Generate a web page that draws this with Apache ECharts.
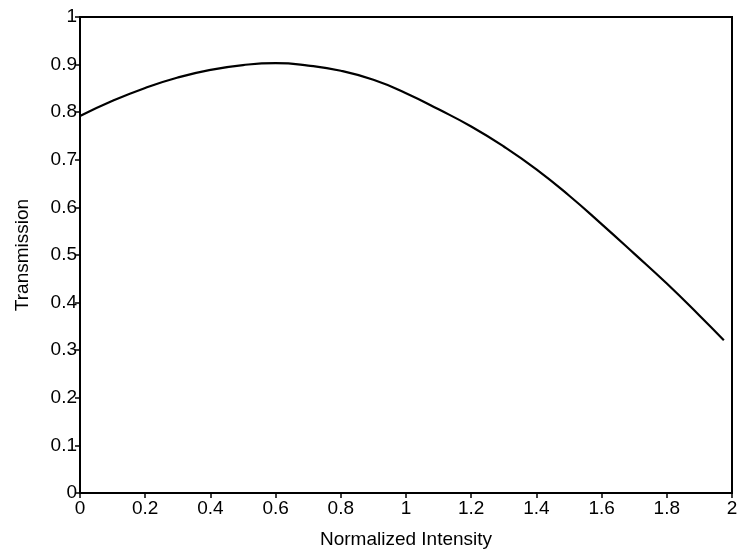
<!DOCTYPE html>
<html>
<head>
<meta charset="utf-8">
<script src="https://cdn.jsdelivr.net/npm/echarts@6/dist/echarts.min.js"></script>
<style>
  html, body { margin: 0; padding: 0; background: #fff; }
  #chart { width: 741px; height: 554px; }
</style>
</head>
<body>
<div id="chart"></div>
<script>
// Transmission versus normalized intensity
const intensity = [0, 0.1, 0.2, 0.3, 0.4, 0.5, 0.6, 0.7, 0.8, 0.9, 1.0,
                   1.1, 1.2, 1.3, 1.4, 1.5, 1.6, 1.7, 1.8, 1.9, 1.975];
const transmission = [0.792, 0.824, 0.851, 0.873, 0.889, 0.899, 0.903, 0.898, 0.887, 0.868, 0.840,
                      0.806, 0.770, 0.728, 0.680, 0.625, 0.565, 0.503, 0.440, 0.373, 0.321];

const xTicks = [0, 0.2, 0.4, 0.6, 0.8, 1, 1.2, 1.4, 1.6, 1.8, 2];
const yTicks = [0, 0.1, 0.2, 0.3, 0.4, 0.5, 0.6, 0.7, 0.8, 0.9, 1];

const FONT = '"Liberation Sans", Arial, Helvetica, sans-serif';
const points = intensity.map((x, i) => [x, transmission[i]]);
const fmt = v => String(parseFloat(v.toFixed(1)));

const chart = echarts.init(document.getElementById('chart'), null, { renderer: 'canvas' });
chart.setOption({
  animation: false,
  backgroundColor: '#ffffff',
  grid: {
    left: 80, right: 9, top: 17, bottom: 60,
    show: true, borderColor: '#000', borderWidth: 2, backgroundColor: 'transparent'
  },
  xAxis: {
    type: 'value',
    min: xTicks[0], max: xTicks[xTicks.length - 1], interval: 0.2,
    name: 'Normalized Intensity',
    nameLocation: 'middle', nameGap: 37,
    nameTextStyle: { fontFamily: FONT, fontSize: 19, color: '#000' },
    axisLine: { show: true, onZero: false, lineStyle: { color: '#000', width: 2 } },
    axisTick: { show: true, length: 5, lineStyle: { color: '#000', width: 1.5 } },
    axisLabel: { fontFamily: FONT, fontSize: 19, color: '#000', margin: 6, formatter: fmt },
    splitLine: { show: false }
  },
  yAxis: {
    type: 'value',
    min: yTicks[0], max: yTicks[yTicks.length - 1], interval: 0.1,
    name: 'Transmission',
    nameLocation: 'middle', nameGap: 48,
    nameTextStyle: { fontFamily: FONT, fontSize: 19, color: '#000' },
    axisLine: { show: true, lineStyle: { color: '#000', width: 2 } },
    axisTick: { show: true, length: 5, lineStyle: { color: '#000', width: 1.5 } },
    axisLabel: { fontFamily: FONT, fontSize: 19, color: '#000', margin: 3, formatter: fmt },
    splitLine: { show: false }
  },
  series: [{
    type: 'line',
    data: points,
    smooth: true,
    showSymbol: false,
    lineStyle: { color: '#000', width: 2.2 }
  }]
});
</script>
</body>
</html>
